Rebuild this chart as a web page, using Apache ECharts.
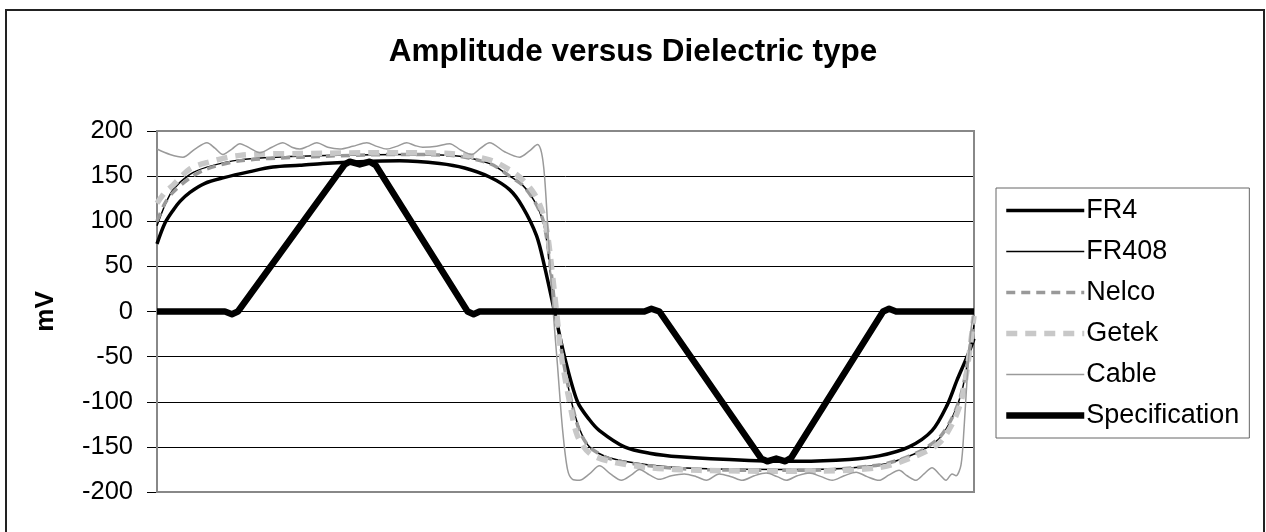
<!DOCTYPE html>
<html>
<head>
<meta charset="utf-8">
<script src="https://cdn.jsdelivr.net/npm/echarts@6/dist/echarts.min.js"></script>
<style>
  html, body { margin: 0; padding: 0; background: #fff; }
  #chart { width: 1266px; height: 532px; }
</style>
</head>
<body>
<div id="chart"></div>
<script>
// time in ps (hidden axis), amplitude in mV
const fr4 = [[0,75],[8,98],[16,112],[23,122],[33,132],[48,142],[66,148],[93,155],[116,160],[143,162],[166,164],[203,166],[243,167],[283,164],[308,159],[333,149],[353,135],[366,116],[380,84],[388,50],[398,0],[408,-50],[421,-100],[433,-120],[443,-132],[468,-150],[493,-157],[523,-161],[593,-165],[643,-166],[693,-164],[723,-160],[753,-150],[776,-132],[791,-104],[801,-76],[808,-58],[813,-45],[818,-30]];
const fr408 = [[0,95],[8,118],[16,135],[33,152],[50,160],[83,168],[143,172],[243,174],[293,173],[333,164],[353,150],[366,140],[378,122],[386,102],[390,80],[393,50],[399,0],[406,-50],[415,-100],[423,-130],[433,-150],[453,-162],[493,-170],[543,-174],[643,-175],[723,-170],[760,-157],[783,-141],[796,-118],[805,-92],[811,-60],[818,-15]];
const nelco = [[0,100],[8,120],[16,132],[33,148],[50,158],[83,167],[143,171],[243,174],[293,173],[333,164],[353,150],[366,140],[378,122],[386,103],[390,82],[394,50],[399,0],[406,-50],[415,-100],[423,-132],[433,-150],[453,-163],[493,-171],[543,-175],[643,-176],[723,-170],[760,-157],[783,-140],[796,-118],[805,-92],[811,-60],[818,-10]];
const getek = [[0,120],[8,132],[16,140],[33,158],[50,165],[83,173],[143,175],[243,176],[293,175],[333,168],[353,157],[366,146],[378,130],[386,110],[391,85],[395,50],[400,0],[405,-50],[413,-100],[421,-138],[433,-157],[453,-166],[493,-173],[543,-176],[643,-177],[723,-173],[760,-160],[783,-146],[796,-125],[805,-100],[811,-65],[818,-5]];
const cable = [[0,180],[13,174],[26,171],[38,180],[50,187],[58,181],[66,174],[75,180],[83,186],[93,181],[103,176],[115,182],[126,187],[135,182],[143,180],[151,183],[160,187],[171,182],[183,180],[196,183],[210,187],[220,183],[230,180],[240,183],[250,187],[258,184],[266,182],[280,183],[293,186],[304,179],[315,174],[324,181],[333,187],[348,177],[363,171],[373,178],[381,185],[385,176],[388,150],[392,80],[396,10],[401,-60],[406,-130],[411,-175],[416,-186],[423,-187],[433,-180],[443,-171],[454,-180],[465,-187],[475,-181],[483,-175],[493,-181],[503,-186],[515,-182],[528,-180],[540,-183],[550,-187],[563,-180],[575,-183],[586,-187],[598,-182],[610,-179],[621,-183],[630,-187],[641,-182],[653,-179],[665,-183],[676,-187],[688,-182],[700,-178],[711,-183],[723,-187],[733,-181],[743,-176],[751,-182],[760,-187],[768,-180],[776,-173],[783,-180],[790,-187],[796,-180],[800,-182],[805,-170],[808,-130],[811,-76],[815,-20],[818,0]];
const spec = [[0,0],[68,0],[75,-3],[81,0],[188,163],[193,166],[203,163],[213,166],[219,162],[311,0],[317,-3],[323,0],[488,0],[495,3],[503,0],[605,-163],[611,-166],[620,-163],[629,-166],[635,-162],[727,0],[733,3],[740,0],[818,0]];

const seriesNames = ['FR4', 'FR408', 'Nelco', 'Getek', 'Cable', 'Specification'];
const yTicks = [-200, 200, 50]; // min, max, step

const styles = {
  FR4: { color: '#000', width: 3.5, type: 'solid' },
  FR408: { color: '#000', width: 1.5, type: 'solid' },
  Nelco: { color: '#999', width: 3.5, type: [9, 6] },
  Getek: { color: '#c8c8c8', width: 5.5, type: [11, 8] },
  Cable: { color: '#9a9a9a', width: 1.5, type: 'solid' },
  Specification: { color: '#000', width: 6.5, type: 'solid' }
};
const values = { FR4: fr4, FR408: fr408, Nelco: nelco, Getek: getek, Cable: cable, Specification: spec };
const font = '"Liberation Sans", Arial, sans-serif';

let myChart = echarts.init(document.getElementById('chart'), null, { renderer: 'canvas' });

let option = {
  backgroundColor: '#fff',
  animation: false,
  title: {
    text: 'Amplitude versus Dielectric type',
    left: 'center',
    top: 31,
    textStyle: { fontFamily: font, fontSize: 31.5, fontWeight: 'bold', color: '#000' }
  },
  grid: { left: 157, right: 292, top: 131, bottom: 40, show: false },
  legend: {
    orient: 'vertical',
    left: 996,
    top: 188,
    padding: [9, 10, 9, 7],
    itemWidth: 78,
    itemHeight: 25,
    itemGap: 14,
    borderColor: '#666',
    borderWidth: 1,
    textStyle: { fontFamily: font, fontSize: 27, lineHeight: 25, color: '#000', padding: [0, 0, 0, -3] },
    data: seriesNames.map(n => ({
      name: n,
      itemStyle: { opacity: 0, borderWidth: 0 },
      lineStyle: { width: styles[n].width, color: styles[n].color, type: styles[n].type, opacity: 1 }
    }))
  },
  xAxis: {
    type: 'value', min: 0, max: 818,
    show: false
  },
  yAxis: {
    type: 'value', min: yTicks[0], max: yTicks[1], interval: yTicks[2],
    name: 'mV',
    nameLocation: 'middle',
    nameRotate: 90,
    nameGap: 98,
    nameTextStyle: { fontFamily: font, fontSize: 26, fontWeight: 'bold', color: '#000' },
    axisLine: { show: true, lineStyle: { color: '#000', width: 1 } },
    axisTick: { show: true, length: 10, lineStyle: { color: '#000' } },
    axisLabel: { fontFamily: font, fontSize: 25.5, color: '#000', margin: 24 },
    splitLine: { show: true, lineStyle: { color: '#000', width: 1 } }
  },
  graphic: [
    {
      type: 'rect', z: 1,
      shape: { x: 157, y: 131, width: 817, height: 361 },
      style: { fill: null, stroke: '#888', lineWidth: 2 }
    },
    {
      type: 'rect', z: 1,
      shape: { x: 6, y: 10, width: 1258, height: 530 },
      style: { fill: null, stroke: '#222', lineWidth: 2 }
    }
  ],
  series: seriesNames.map(n => ({
    name: n,
    type: 'line',
    data: values[n],
    symbol: 'none',
    smooth: n === 'Specification' ? false : 0.3,
    lineStyle: { color: styles[n].color, width: styles[n].width, type: styles[n].type, join: 'round', cap: 'butt' },
    itemStyle: { color: styles[n].color },
    z: 2
  }))
};

myChart.setOption(option, true);
</script>
</body>
</html>
